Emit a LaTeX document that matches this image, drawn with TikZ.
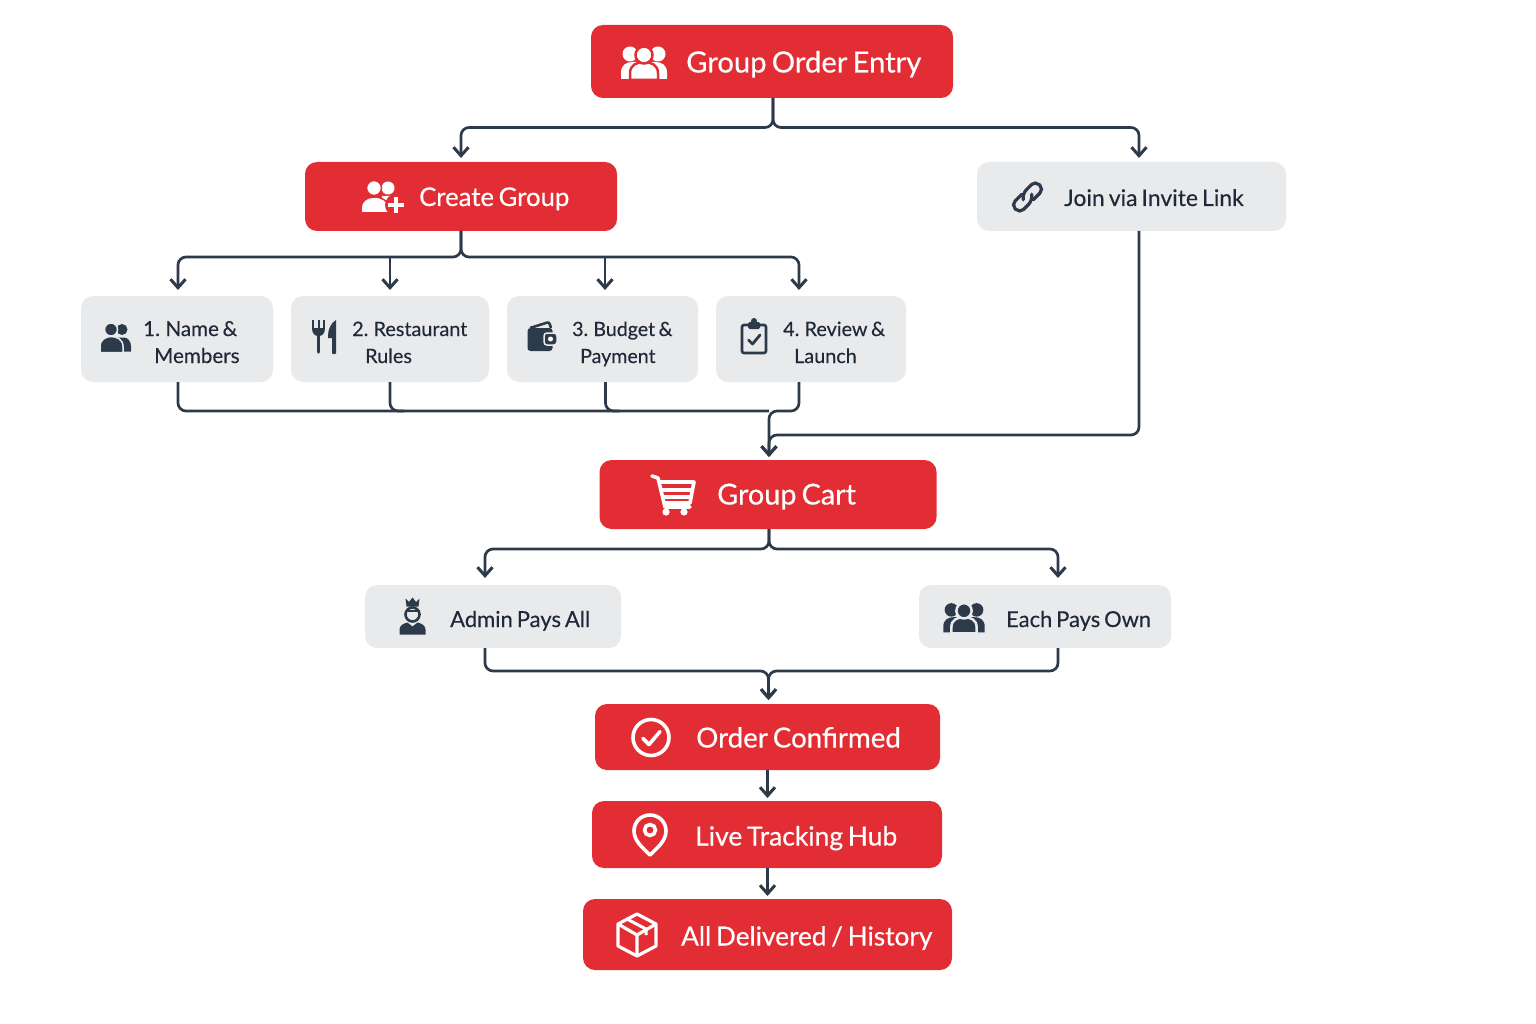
\documentclass[tikz,border=0pt]{standalone}
\usepackage{fontspec}
\setmainfont{Lato}
\newfontfamily\redfont[FakeBold=0.45,WordSpace=0.7]{Lato}
\newfontfamily\greyfont[FakeBold=0.25,WordSpace=0.7]{Lato}
\usetikzlibrary{arrows.meta}
\definecolor{redbox}{RGB}{227,45,52}
\definecolor{greybox}{RGB}{233,234,236}
\definecolor{darkline}{RGB}{45,58,74}
\definecolor{darktext}{RGB}{31,41,55}
\tikzset{
	x=1pt, y=-1pt,
	redbox/.style={fill=redbox, rounded corners=12pt, inner sep=0pt, outer sep=0pt},
	greybox/.style={fill=greybox, rounded corners=12pt, inner sep=0pt, outer sep=0pt},
	redtext/.style={text=white, anchor=base west, inner sep=0pt, font=\redfont\fontsize{#1}{#1}\selectfont},
	greytext/.style={text=darktext, anchor=base west, inner sep=0pt, align=left, font=\greyfont\fontsize{#1}{27}\selectfont},
	flow/.style={draw=darkline, line width=2.7pt, rounded corners=8pt, -{Straight Barb[length=8.5pt,width=15pt,line width=3pt]}, shorten >=3pt},
	busline/.style={draw=darkline, line width=2.7pt, rounded corners=8pt},
	% people, one in front of two
	pics/threepeople/.style 2 args={code={
		\fill[#1] (-23,16) -- (-23,10) .. controls (-23,2) and (-18,-1) .. (-11,-1) -- (11,-1) .. controls (18,-1) and (23,2) .. (23,10) -- (23,16) -- cycle;
		\fill[#1] (-14,-9) circle (7.5);
		\fill[#1] (14,-9) circle (7.5);
		\filldraw[fill=#1, draw=#2, line width=2.5pt] (-14,17) -- (-14,10) .. controls (-14,2) and (-7,-1) .. (0,-1) .. controls (7,-1) and (14,2) .. (14,10) -- (14,17) -- cycle;
		\filldraw[fill=#1, draw=#2, line width=2.5pt] (0,-8) circle (8.5);
	}},
	pics/twopeople/.style={code={
		\fill[darkline] (6,-8) circle (5.5);
		\fill[darkline] (2,0) -- (8,0) .. controls (12,0) and (15,4) .. (15,9) -- (15,14) -- (2,14) -- cycle;
		\filldraw[fill=darkline, draw=greybox, line width=1.5pt] (-5,-8) circle (6.5);
		\filldraw[fill=darkline, draw=greybox, line width=1.5pt] (-16,15) -- (-16,9) .. controls (-16,2) and (-10,-1) .. (-5,-1) .. controls (1,-1) and (7,2) .. (7,9) -- (7,15) -- cycle;
	}},
	pics/addpeople/.style={code={
		\fill[white] (6,-10) circle (6.5);
		\fill[white] (0,-2) -- (8,-2) .. controls (15,-2) and (20,2) .. (20,8) -- (8,14) -- (0,14) -- cycle;
		\filldraw[fill=white, draw=redbox, line width=1.5pt] (-8,-10) circle (7.5);
		\filldraw[fill=white, draw=redbox, line width=1.5pt] (-21,15) -- (-21,10) .. controls (-21,3) and (-15,-1) .. (-8,-1) .. controls (0,-1) and (6,3) .. (8,10) -- (8,15) -- cycle;
		\fill[redbox] (14,7) circle (11);
		\draw[white, line width=3.5pt] (14,-1) -- (14,15) (6,7) -- (22,7);
	}},
	pics/cutlery/.style={code={
		\draw[darkline, line width=3.6pt, line cap=round] (-5.5,-5) -- (-5.5,15);
		\draw[darkline, line width=2pt] (-11,-17) -- (-11,-8) (-5.5,-17) -- (-5.5,-8) (0,-17) -- (0,-8);
		\fill[darkline] (-12,-9) -- (1,-9) .. controls (1,-3) and (-2,-1) .. (-5.5,-1) .. controls (-9,-1) and (-12,-3) .. (-12,-9) -- cycle;
		\fill[darkline] (12,-17) .. controls (7,-14) and (4,-8) .. (4,-1) -- (4,1) -- (8,1) -- (8,16) .. controls (8,17.5) and (12,17.5) .. (12,16) -- cycle;
	}},
	pics/wallet/.style={code={
		\draw[darkline, line width=2.6pt, rounded corners=2pt] (-12,-8) -- (7,-14) -- (9,-8);
		\fill[darkline, rounded corners=3pt] (-14.5,-8) rectangle (10.5,15);
		\filldraw[fill=darkline, draw=greybox, line width=1.5pt, rounded corners=3pt] (2,-3) rectangle (15,9);
		\fill[white] (8.5,3) circle (2.5);
	}},
	pics/clipboard/.style={code={
		\draw[darkline, line width=2.6pt, rounded corners=2pt] (-12,-12) rectangle (12,16);
		\fill[darkline, rounded corners=1.5pt] (-6,-15) rectangle (6,-8);
		\fill[darkline] (0,-16) circle (3);
		\draw[darkline, line width=2.8pt, line cap=round, line join=round] (-5.5,3) -- (-1.5,7) -- (6,-2);
	}},
	pics/chainlink/.style={code={
		\begin{scope}[rotate=45]
		\draw[darkline, line width=3.2pt, rounded corners=5.5pt, line cap=round] (-2,-6) -- (-17,-6) -- (-17,6) -- (1,6) -- (5,1);
		\draw[darkline, line width=3.2pt, rounded corners=5.5pt, line cap=round] (2,6) -- (17,6) -- (17,-6) -- (-1,-6) -- (-5,-1);
		\end{scope}
	}},
	pics/cart/.style={code={
		\draw[white, line width=3.6pt, line cap=round, line join=round] (-21,-19) -- (-15,-17) -- (-8,12) -- (17,12);
		\draw[white, line width=3.6pt, line join=round] (-14,-13) -- (21,-13) -- (17,8) -- (-8,8);
		\draw[white, line width=3.6pt] (-12,-5) -- (19,-5) (-10,2) -- (18,2);
		\fill[white] (-7,17) circle (3.6);
		\fill[white] (11,17) circle (3.6);
	}},
	pics/admin/.style={code={
		\fill[darkline] (-7,-18) -- (-3.5,-14.5) -- (0,-19) -- (3.5,-14.5) -- (7,-18) -- (6,-10) -- (-6,-10) -- cycle;
		\draw[darkline, line width=2.6pt] (0,-2) circle (7);
		\fill[darkline] (-7,-6.5) -- (7,-6.5) -- (7,-4.5) -- (-7,-4.5) -- cycle;
		\fill[darkline] (-13,18) -- (-13,13) .. controls (-13,9) and (-9,7) .. (-5,6) -- (0,10) -- (5,6) .. controls (9,7) and (13,9) .. (13,13) -- (13,18) -- cycle;
	}},
	pics/checkcircle/.style={code={
		\draw[white, line width=3.6pt] (0,0) circle (18);
		\draw[white, line width=3.6pt, line cap=round, line join=round] (-8,1) -- (-2,7) -- (9,-6);
	}},
	pics/trackpin/.style={code={
		\draw[white, line width=3.6pt, line join=round] (0,21) .. controls (-7,14) and (-16,7) .. (-16,-3) .. controls (-16,-12) and (-9,-19) .. (0,-19) .. controls (9,-19) and (16,-12) .. (16,-3) .. controls (16,7) and (7,14) .. (0,21) -- cycle;
		\draw[white, line width=3.6pt] (0,-4) circle (5.5);
	}},
	pics/parcel/.style={code={
		\draw[white, line width=3.2pt, line join=round] (0,-21) -- (19,-11) -- (19,11) -- (0,21) -- (-19,11) -- (-19,-11) -- cycle;
		\draw[white, line width=3.2pt, line join=round] (-19,-11) -- (0,0) -- (19,-11) (0,0) -- (0,21);
		\draw[white, line width=3pt, line join=round] (-10,-16) -- (9,-6) -- (9,0);
	}},
}
\begin{document}
\begin{tikzpicture}
	\useasboundingbox (0,0) rectangle (1536,1024);
	% Boxes
	\node[redbox, minimum width=362pt, minimum height=73pt] (entry) at (772,61.5) {};
	\node[redbox, minimum width=312pt, minimum height=69pt] (create) at (461,196.5) {};
	\node[greybox, minimum width=309pt, minimum height=69pt] (join) at (1131.5,196.5) {};
	\node[greybox, minimum width=192pt, minimum height=86pt] (name) at (177,339) {};
	\node[greybox, minimum width=198pt, minimum height=86pt] (rules) at (390,339) {};
	\node[greybox, minimum width=191pt, minimum height=86pt] (budget) at (602.5,339) {};
	\node[greybox, minimum width=190pt, minimum height=86pt] (review) at (811,339) {};
	\node[redbox, minimum width=337pt, minimum height=69pt] (cart) at (768,494.5) {};
	\node[greybox, minimum width=256pt, minimum height=63pt] (admin) at (493,616.5) {};
	\node[greybox, minimum width=252pt, minimum height=63pt] (each) at (1045,616.5) {};
	\node[redbox, minimum width=345pt, minimum height=66pt] (confirmed) at (767.5,737) {};
	\node[redbox, minimum width=350pt, minimum height=67pt] (tracking) at (767,834.5) {};
	\node[redbox, minimum width=369pt, minimum height=71pt] (delivered) at (767.5,934.5) {};
	% Labels
	\node[redtext=29.2] (entrytext) at (686,72.5) {Group Order Entry};
	\node[redtext=25.7] (createtext) at (419,206) {Create Group};
	\node[greytext=22.9] (jointext) at (1064,206) {Join via Invite Link};
	\node[greytext=20.6] (nametext) at (143,363) {1. Name \&\\\hspace*{11pt}Members};
	\node[greytext=19.8] (rulestext) at (352,363) {2. Restaurant\\\hspace*{13pt}Rules};
	\node[greytext=19.6] (budgettext) at (572,363) {3. Budget \&\\\hspace*{8pt}Payment};
	\node[greytext=19.8] (reviewtext) at (783,363) {4. Review \&\\\hspace*{11pt}Launch};
	\node[redtext=28.8] (carttext) at (717,504.5) {Group Cart};
	\node[greytext=22] (admintext) at (450,627) {Admin Pays All};
	\node[greytext=21.9] (eachtext) at (1006,627) {Each Pays Own};
	\node[redtext=27.7] (confirmedtext) at (696,747.5) {Order Confirmed};
	\node[redtext=26.4] (trackingtext) at (695,845.5) {Live Tracking Hub};
	\node[redtext=26.2] (deliveredtext) at (681,945.5) {All Delivered / History};
	% Icons
	\pic at (644,63) {threepeople={white}{redbox}};
	\pic at (382,198) {addpeople};
	\pic at (1027.5,197) {chainlink};
	\pic at (116,337.5) {twopeople};
	\pic at (324,337) {cutlery};
	\pic at (542,336) {wallet};
	\pic at (754,337) {clipboard};
	\pic at (673,495) {cart};
	\pic at (412.5,616.5) {admin};
	\pic[scale=0.9] at (964,618) {threepeople={darkline}{greybox}};
	\pic at (651,737.5) {checkcircle};
	\pic at (650,834) {trackpin};
	\pic at (637,935) {parcel};
	% Bus points
	\coordinate (createbus) at (461,257);
	\coordinate (stepbus) at (769,411);
	% Connectors
	\draw[flow, shorten >=4pt] ([xshift=1pt]entry.south) -- ++(0,29.5) -| (create.north);
	\draw[flow, shorten >=4pt] ([xshift=1pt]entry.south) -- ++(0,29.5) -| ([xshift=7.5pt]join.north);
	\draw[flow, shorten >=6pt] (create.south) -- ++(0,26) -| ([xshift=1pt]name.north);
	\draw[flow, shorten >=6pt] (create.south) -- ++(0,26) -| ([xshift=-12pt]review.north);
	\draw[flow, shorten >=6pt] (createbus -| rules.north) -- (rules.north);
	\draw[flow, shorten >=6pt] (createbus -| budget.north) ++(2.5,0) -- ([xshift=2.5pt]budget.north);
	\draw[busline] ([xshift=1pt]name.south) |- (stepbus);
	\draw[busline] (rules.south) -- ++(0,29) -- ++(14,0);
	\draw[busline] ([xshift=3pt]budget.south) -- ++(0,29) -- ++(14,0);
	\draw[flow] ([xshift=-12pt]review.south) -- ++(0,29) -| ([xshift=1pt]cart.north);
	\draw[flow] ([xshift=7.5pt]join.south) -- ++(0,204) -| ([xshift=1pt]cart.north);
	\draw[flow, shorten >=7pt] ([xshift=1pt]cart.south) -- ++(0,20) -| ([xshift=-8pt]admin.north);
	\draw[flow, shorten >=7pt] ([xshift=1pt]cart.south) -- ++(0,20) -| ([xshift=13pt]each.north);
	\draw[flow, shorten >=4pt] ([xshift=-8pt]admin.south) -- ++(0,23) -| ([xshift=1pt]confirmed.north);
	\draw[flow, shorten >=4pt] ([xshift=13pt]each.south) -- ++(0,23) -| ([xshift=1pt]confirmed.north);
	\draw[flow] (confirmed.south) -- (confirmed.south |- tracking.north);
	\draw[flow] (tracking.south -| confirmed.south) -- (confirmed.south |- delivered.north);
\end{tikzpicture}
\end{document}
